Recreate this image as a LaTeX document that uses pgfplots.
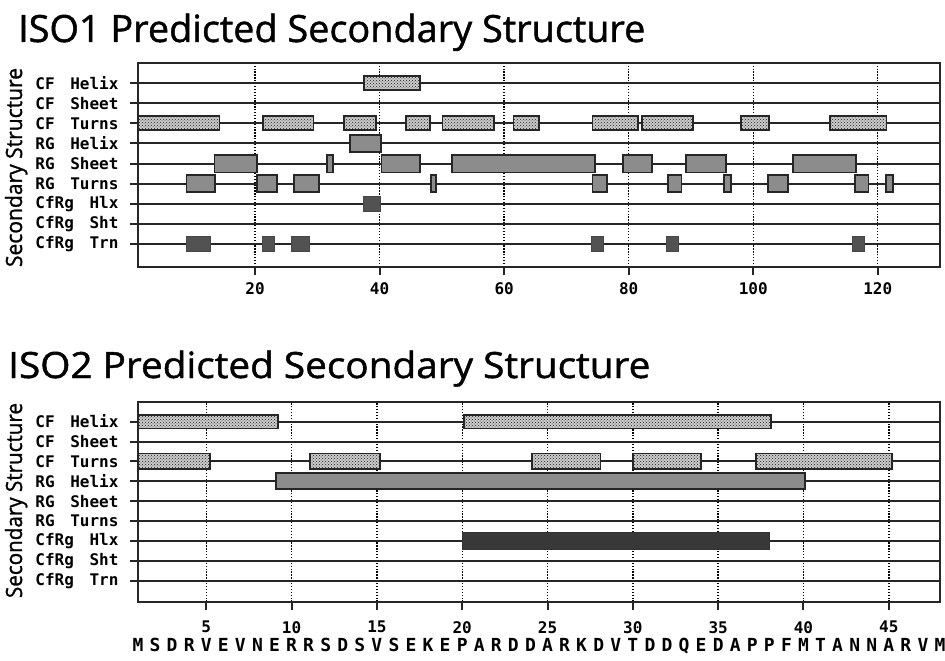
\documentclass[border=0pt]{standalone}
\usepackage{pgfplots}
\pgfplotsset{compat=1.18}
\usetikzlibrary{patterns}
\usepackage{fontspec}
\setmainfont{DejaVu Sans}
\newfontfamily\titlefont{Open Sans}[FakeBold=1.2]
\newfontfamily\lblfont{DejaVu Sans Mono}
\newcommand\lab[2]{\makebox[83pt]{#1\hfill#2}}
% one bar: x0, x1, ylo, yhi, style
\newcommand\bx[5]{\addplot[#5] coordinates {(#1,#3) (#2,#3) (#2,#4) (#1,#4)} -- cycle;}
\pgfplotsset{
  ss/.style={
    scale only axis, width=802pt, anchor=south west,
    axis line style={line width=2pt, black!85},
    ytick={1,...,9},
    yticklabels={\lab{CfRg}{Trn},\lab{CfRg}{Sht},\lab{CfRg}{Hlx},\lab{RG}{Turns},\lab{RG}{Sheet},\lab{RG}{Helix},\lab{CF}{Turns},\lab{CF}{Sheet},\lab{CF}{Helix}},
    ymajorgrids, xmajorgrids,
    y grid style={line width=2pt, black!85},
    x grid style={line width=1.4pt, black, dash pattern=on 1.3pt off 1.6pt},
    tick align=outside, major tick length=8pt,
    tick style={line width=2pt, black!85},
    xtick pos=left, ytick pos=left,
    tick label style={font=\lblfont\bfseries\fontsize{16}{16}\selectfont},
    /pgf/number format/assume math mode=true,
    yticklabel style={anchor=east, xshift=-8pt},
    xticklabel style={yshift=-4pt},
  },
  cfs/.style={preaction={fill=black!20}, pattern=crosshatch dots, pattern color=black!90, draw=black!85, line width=1.8pt},
  rgs/.style={fill=black!45, draw=black!85, line width=1.8pt},
  crs/.style={fill=black!68, draw=black!72, line width=0.8pt},
  crd/.style={fill=black!78, draw=black!80, line width=0.8pt},
}
\begin{document}
\begin{tikzpicture}
\useasboundingbox (0pt,0pt) rectangle (945pt,-661pt);
\node[anchor=base west, inner sep=0pt] at (18pt,-42pt) {\resizebox{627pt}{28.5pt}{\titlefont ISO1 Predicted Secondary Structure}};
\node[anchor=base west, inner sep=0pt] at (8pt,-378pt) {\resizebox{642pt}{27.5pt}{\titlefont ISO2 Predicted Secondary Structure}};
\node[rotate=90, anchor=base, inner sep=0pt] at (22pt,-167.5pt) {\resizebox{199pt}{17pt}{\titlefont Secondary Structure}};
\node[rotate=90, anchor=base, inner sep=0pt] at (22pt,-500.5pt) {\resizebox{195pt}{17pt}{\titlefont Secondary Structure}};

\begin{axis}[ss, at={(138pt,-267pt)}, height=204pt,
  xmin=1.2, xmax=130, ymin=-0.14, ymax=10, xtick={20,40,...,120}]
% CF Helix (row 9)
\bx{37.5}{46.5}{8.65}{9.35}{cfs}
% CF Turns (row 7)
\bx{1.2}{14.3}{6.65}{7.35}{cfs}
\bx{21.3}{29.4}{6.65}{7.35}{cfs}
\bx{34.3}{39.4}{6.65}{7.35}{cfs}
\bx{44.2}{48.1}{6.65}{7.35}{cfs}
\bx{50.1}{58.4}{6.65}{7.35}{cfs}
\bx{61.5}{65.6}{6.65}{7.35}{cfs}
\bx{74.2}{81.5}{6.65}{7.35}{cfs}
\bx{82.2}{90.3}{6.65}{7.35}{cfs}
\bx{98.0}{102.6}{6.65}{7.35}{cfs}
\bx{112.3}{121.4}{6.65}{7.35}{cfs}
% RG Helix (row 6)
\bx{35.2}{40.2}{5.56}{6.44}{rgs}
% RG Sheet (row 5)
\bx{13.5}{20.3}{4.56}{5.44}{rgs}
\bx{31.5}{32.5}{4.56}{5.44}{rgs}
\bx{40.3}{46.5}{4.56}{5.44}{rgs}
\bx{51.6}{74.6}{4.56}{5.44}{rgs}
\bx{79.1}{83.7}{4.56}{5.44}{rgs}
\bx{89.2}{95.6}{4.56}{5.44}{rgs}
\bx{106.4}{116.5}{4.56}{5.44}{rgs}
% RG Turns (row 4)
\bx{9.0}{13.6}{3.58}{4.42}{rgs}
\bx{20.3}{23.5}{3.58}{4.42}{rgs}
\bx{26.3}{30.3}{3.58}{4.42}{rgs}
\bx{48.2}{49.1}{3.58}{4.42}{rgs}
\bx{74.2}{76.5}{3.58}{4.42}{rgs}
\bx{86.3}{88.5}{3.58}{4.42}{rgs}
\bx{95.3}{96.4}{3.58}{4.42}{rgs}
\bx{102.4}{105.6}{3.58}{4.42}{rgs}
\bx{116.3}{118.5}{3.58}{4.42}{rgs}
\bx{121.3}{122.4}{3.58}{4.42}{rgs}
% CfRg Hlx (row 3)
\bx{37.4}{40.2}{2.62}{3.38}{crs}
% CfRg Trn (row 1)
\bx{8.9}{12.9}{0.62}{1.38}{crs}
\bx{21.1}{23.1}{0.62}{1.38}{crs}
\bx{25.9}{28.8}{0.62}{1.38}{crs}
\bx{74.0}{76.0}{0.62}{1.38}{crs}
\bx{86.0}{88.0}{0.62}{1.38}{crs}
\bx{115.9}{117.9}{0.62}{1.38}{crs}
\end{axis}

\begin{axis}[ss, at={(138pt,-601.7pt)}, height=200pt,
  xmin=1, xmax=48, ymin=-0.05, ymax=10, xtick={5,10,...,45},
  xticklabel style={yshift=-4pt},
  extra x ticks={1,...,48},
  extra x tick labels={M,S,D,R,V,E,V,N,E,R,R,S,D,S,V,S,E,K,E,P,A,R,D,D,A,R,K,D,V,T,D,D,Q,E,D,A,P,P,F,M,T,A,N,N,A,R,V,M},
  extra x tick style={grid=none, tick style={draw=none}, tick label style={yshift=-17pt, font=\lblfont\bfseries\fontsize{18}{18}\selectfont}}]
% CF Helix (row 9)
\bx{1.0}{9.2}{8.65}{9.35}{cfs}
\bx{20.1}{38.1}{8.65}{9.35}{cfs}
% CF Turns (row 7)
\bx{1.0}{5.2}{6.6}{7.4}{cfs}
\bx{11.1}{15.2}{6.6}{7.4}{cfs}
\bx{24.1}{28.1}{6.6}{7.4}{cfs}
\bx{30.0}{34.0}{6.6}{7.4}{cfs}
\bx{37.2}{45.2}{6.6}{7.4}{cfs}
% RG Helix (row 6)
\bx{9.1}{40.1}{5.6}{6.4}{rgs}
% CfRg Hlx (row 3)
\bx{20.0}{38.0}{2.57}{3.43}{crd}
\end{axis}
\end{tikzpicture}
\end{document}
